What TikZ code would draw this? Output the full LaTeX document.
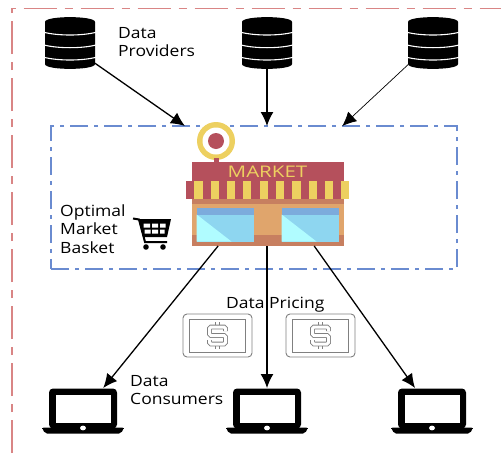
\documentclass[tikz,border=0pt]{standalone}
\usepackage{fontspec}
\setmainfont[FakeStretch=1.13]{Open Sans}
\usetikzlibrary{arrows.meta}
\definecolor{frameRed}{HTML}{D98585}
\definecolor{frameBlue}{HTML}{6A8BD0}
\definecolor{mkRed}{HTML}{B5505C}
\definecolor{mkYellow}{HTML}{EDD060}
\definecolor{mkTan}{HTML}{E0A56C}
\definecolor{mkDark}{HTML}{C77F60}
\definecolor{mkBlue}{HTML}{7CABDC}
\definecolor{mkGlass}{HTML}{8ED6F0}
\definecolor{mkLight}{HTML}{B0FCFF}
\definecolor{iconGrey}{HTML}{808080}
\tikzset{
  lbl/.style={inner sep=0pt,anchor=base west,font=\fontsize{15.5}{18}\selectfont,text=black},
  arrowline/.style={-{Latex[length=14pt,width=13pt]},line width=1.3pt,black},
  thinarrow/.style={-{Latex[length=14pt,width=13pt]},line width=0.7pt,black},
  dbicon/.pic={
    \fill[black] (-25,-21) .. controls (-25,-27.5) and (25,-27.5) .. (25,-21)
      -- (25,21) .. controls (25,27.5) and (-25,27.5) .. (-25,21) -- cycle;
    \foreach \yy in {-10.7,2,14.3}
      \draw[white,line width=1.1pt] (-26,\yy) .. controls (-12,\yy+3.6) and (12,\yy+3.6) .. (26,\yy);
  },
  laptopicon/.pic={
    \fill[black,rounded corners=4pt] (-34,18) -- (-34,-22) -- (34,-22) -- (34,18) -- cycle;
    \fill[white] (-27.5,-16) rectangle (27.5,12);
    \fill[black,rounded corners=2pt] (-41,17) -- (41,17) -- (38,23) -- (-38,23) -- cycle;
    \fill[black] (-41,17) -- (41,17) -- (41,18.5) -- (-41,18.5) -- cycle;
    \fill[white] (0,17.5) ellipse (3 and 2.4);
  },
  moneyicon/.pic={
    \draw[iconGrey,line width=0.9pt,rounded corners=4pt] (-34.5,-21.5) rectangle (34.5,21.5);
    \draw[iconGrey,line width=0.9pt] (-28,-16.5) rectangle (28,16.5);
    \draw[iconGrey,line width=0.9pt,double=white,double distance=3pt]
      (0,-13.5) -- (0,-8.5) (0,8.5) -- (0,13.5);
    \draw[iconGrey,line width=0.9pt,double=white,double distance=3pt,rounded corners=1.5pt]
      (8,-4.5) -- (8,-8.5) -- (-8,-8.5) -- (-8,0) -- (8,0) -- (8,8.5) -- (-8,8.5) -- (-8,4.5);
  },
  carticon/.pic={
    \draw[black,line width=2pt] (-18,-13.5) -- (-12,-12.5) -- (-6,10) -- (16,10);
    \fill[black] (-12.5,-13) -- (20,-13) -- (16,5) -- (-8,5) -- cycle;
    \fill[white] (-7.5,-8.5) rectangle (-1,-4.5) (1,-8.5) rectangle (7,-4.5) (9,-8.5) rectangle (14.5,-4.5)
      (-6.5,-2.5) rectangle (-0.5,1.5) (1,-2.5) rectangle (7,1.5) (9,-2.5) rectangle (13.5,1.5);
    \fill[black] (-5,15) circle (2.8) (12,15) circle (2.8);
  }
}
\begin{document}
\begin{tikzpicture}[x=1pt,y=-1pt]
\useasboundingbox (0,0) rectangle (501,453);
\fill[white] (0,0) rectangle (501,453);
% outer frame
\draw[frameRed,line width=1.2pt,dash pattern=on 33pt off 8pt on 8pt off 8pt] (12,453) -- (12,8.5) -- (501,8.5);
% market frame
\node[draw=frameBlue,line width=1.2pt,dash pattern=on 18pt off 6pt on 4pt off 6pt,minimum width=406pt,minimum height=143pt,inner sep=0pt,outer sep=0pt] (frame) at (254,197.5) {};
% market building
\node[inner sep=0pt,outer sep=0pt,minimum width=162pt,minimum height=85pt] (mk) at (267,203.5) {};
\fill[mkYellow] (216,141) circle (19);
\fill[white] (216,141) circle (13.5);
\fill[mkRed] (216,141) circle (8);
\fill[mkRed] (214,158) rectangle (218.7,162);
\fill[mkTan] (191.7,199) rectangle (344,246);
\fill[mkDark] (191.7,235) rectangle (344,246);
\fill[mkDark] (191.7,199) rectangle (344,203.5);
\foreach \xa in {196.7,281.7}{
  \fill[mkGlass] (\xa,207.7) rectangle (\xa+57.5,241.7);
  \fill[mkLight] (\xa,214.5) -- (\xa+35,241.7) -- (\xa,241.7) -- cycle;
  \fill[mkBlue] (\xa,207.7) rectangle (\xa+57.5,214.5);
}
\fill[mkRed] (191.7,161.7) rectangle (344,182);
\fill[mkRed] (186,181) rectangle (348.3,199.3);
\foreach \xb in {194.3,210.7,226.7,243,259.7,276,292.3,308.7,325}
  \fill[mkYellow] (\xb,181) rectangle (\xb+8.2,199.3);
\fill[mkYellow] (341.3,181) rectangle (348.6,199.3);
\node[inner sep=0pt,font=\fontsize{16}{16}\selectfont,text=mkYellow] (mktext) at (267.5,171.5) {\scalebox{1.135}[1]{MARKET}};
% icons
\node[inner sep=0pt,outer sep=0pt,minimum width=50pt,minimum height=52pt] (db1) at (70,43) {};
\node[inner sep=0pt,outer sep=0pt,minimum width=50pt,minimum height=52pt] (db2) at (267,43) {};
\node[inner sep=0pt,outer sep=0pt,minimum width=50pt,minimum height=52pt] (db3) at (433,43) {};
\foreach \n in {db1,db2,db3} \pic at (\n) {dbicon};
\node[inner sep=0pt,outer sep=0pt,minimum width=82pt,minimum height=45pt] (lap1) at (83,410.5) {};
\node[inner sep=0pt,outer sep=0pt,minimum width=82pt,minimum height=45pt] (lap2) at (267,410.5) {};
\node[inner sep=0pt,outer sep=0pt,minimum width=82pt,minimum height=45pt] (lap3) at (432,410.5) {};
\foreach \n in {lap1,lap2,lap3} \pic at (\n) {laptopicon};
\node[inner sep=0pt,outer sep=0pt,minimum width=69pt,minimum height=43pt] (money1) at (217.5,335.5) {};
\node[inner sep=0pt,outer sep=0pt,minimum width=69pt,minimum height=43pt] (money2) at (320.5,335.5) {};
\foreach \n in {money1,money2} \pic at (\n) {moneyicon};
\node[inner sep=0pt,outer sep=0pt,minimum width=36pt,minimum height=36pt] (cart) at (151,232) {};
\pic at (cart) {carticon};
% connectors
\draw[arrowline] (db1.-39) -- (frame.134.4);
\draw[arrowline] (db2.south) -- ([xshift=13pt]frame.north);
\draw[thinarrow] (db3.-139) -- (frame.39.4);
\draw[arrowline] (mk.-139.6) -- (lap1.48.4);
\draw[arrowline] (mk.south) -- (lap2.north);
\draw[arrowline] (mk.-42.7) -- (lap3.127);
% labels
\node[lbl] (t1) at (118,38) {Data};
\node[lbl] (t2) at (118,56) {Providers};
\node[lbl] (t3) at (60,216) {Optimal};
\node[lbl] (t4) at (60,234) {Market};
\node[lbl] (t5) at (60,253) {Basket};
\node[lbl] (t6) at (226,308) {Data Pricing};
\node[lbl] (t7) at (130,386) {Data};
\node[lbl] (t8) at (130,404) {Consumers};
\end{tikzpicture}
\end{document}
